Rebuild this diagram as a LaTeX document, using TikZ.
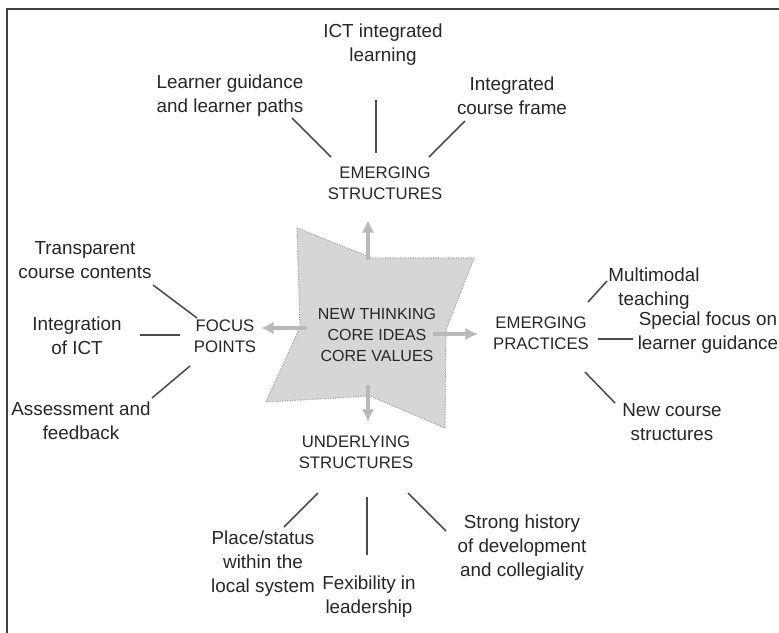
\documentclass[tikz,border=0pt]{standalone}
\usepackage{fontspec}
\setmainfont{Liberation Sans}
\usetikzlibrary{arrows.meta}

\begin{document}
\begin{tikzpicture}[x=0.025cm,y=-0.025cm,
        leaf/.style={align=center, text=black!85, font=\fontsize{13.4}{17}\selectfont},
        hub/.style={align=center, text=black!85, font=\fontsize{11.9}{15}\selectfont},
        spoke/.style={draw=black!70, line width=1.1pt},
        fat arrow/.style={draw=gray!55, line width=2.2pt, -{Latex[length=9pt,width=9pt]}},
        core fill/.style={fill=gray!32, draw=gray!70, densely dotted, line width=.8pt}]
        \useasboundingbox (0,0) rectangle (779,633);

        % frame (cut at right and bottom)
        \draw[black!75, line width=1pt] (7,633) -- (7,9) -- (779,9);

        % centre shape
        \path[core fill] (297,228) -- (372,258) -- (474,258) -- (446,330) -- (445,428)
                      -- (370,396) -- (266,402) -- (300,327) -- cycle;
        \node[hub, font=\fontsize{11.4}{14.6}\selectfont] (core) at (377,335)
             {NEW THINKING\\CORE IDEAS\\CORE VALUES};

        % arrows out of the centre
        \coordinate (up0) at (368,260);  \coordinate (up1) at (368,220);
        \coordinate (lf0) at (307,328);  \coordinate (lf1) at (261,328);
        \coordinate (rt0) at (433,334);  \coordinate (rt1) at (478,334);
        \coordinate (dn0) at (368,385);  \coordinate (dn1) at (368,422);
        \draw[fat arrow] (up0) -- (up1);
        \draw[fat arrow] (lf0) -- (lf1);
        \draw[fat arrow] (rt0) -- (rt1);
        \draw[fat arrow] (dn0) -- (dn1);

        % hubs
        \node[hub] (es) at (385,183) {EMERGING\\STRUCTURES};
        \node[hub] (fp) at (225,336) {FOCUS\\POINTS};
        \node[hub] (ep) at (541,333) {EMERGING\\PRACTICES};
        \node[hub] (us) at (356,452) {UNDERLYING\\STRUCTURES};

        % top
        \node[leaf] (ict) at (383,45)  {ICT integrated\\learning};
        \node[leaf] (lg)  at (230,96)  {Learner guidance\\and learner paths};
        \node[leaf] (icf) at (512,96)  {Integrated\\course frame};
        \coordinate (lg0)  at (292,118); \coordinate (lg1)  at (331,157);
        \coordinate (ict0) at (376,100); \coordinate (ict1) at (376,153);
        \coordinate (icf0) at (465,121); \coordinate (icf1) at (429,157);
        \draw[spoke] (lg0)  -- (lg1);
        \draw[spoke] (ict0) -- (ict1);
        \draw[spoke] (icf0) -- (icf1);

        % left
        \node[leaf] (tcc) at (85,260)  {Transparent\\course contents};
        \node[leaf] (ioi) at (77,336)  {Integration\\of ICT};
        \node[leaf] (aaf) at (81,421)  {Assessment and\\feedback};
        \coordinate (tcc0) at (153,285); \coordinate (tcc1) at (197,318);
        \coordinate (ioi0) at (140,335); \coordinate (ioi1) at (180,335);
        \coordinate (aaf0) at (190,366); \coordinate (aaf1) at (152,398);
        \draw[spoke] (tcc0) -- (tcc1);
        \draw[spoke] (ioi0) -- (ioi1);
        \draw[spoke] (aaf0) -- (aaf1);

        % right
        \node[leaf] (mt)  at (654,289) {Multimodal\\teaching};
        \node[leaf] (sf)  at (708,333) {Special focus on\\learner guidance};
        \node[leaf] (ncs) at (672,422) {New course\\structures};
        \coordinate (mt0)  at (607,281); \coordinate (mt1)  at (588,302);
        \coordinate (sf0)  at (598,339); \coordinate (sf1)  at (633,339);
        \coordinate (ncs0) at (585,372); \coordinate (ncs1) at (615,403);
        \draw[spoke] (mt0)  -- (mt1);
        \draw[spoke] (sf0)  -- (sf1);
        \draw[spoke] (ncs0) -- (ncs1);

        % bottom
        \node[leaf] (ps) at (263,564) {Place/status\\within the\\local system};
        \node[leaf] (fl) at (369,597) {Fexibility in\\leadership};
        \node[leaf] (sh) at (522,548) {Strong history\\of development\\and collegiality};
        \coordinate (ps0) at (318,493); \coordinate (ps1) at (284,527);
        \coordinate (fl0) at (367,497); \coordinate (fl1) at (367,555);
        \coordinate (sh0) at (408,493); \coordinate (sh1) at (446,531);
        \draw[spoke] (ps0) -- (ps1);
        \draw[spoke] (fl0) -- (fl1);
        \draw[spoke] (sh0) -- (sh1);
\end{tikzpicture}
\end{document}
